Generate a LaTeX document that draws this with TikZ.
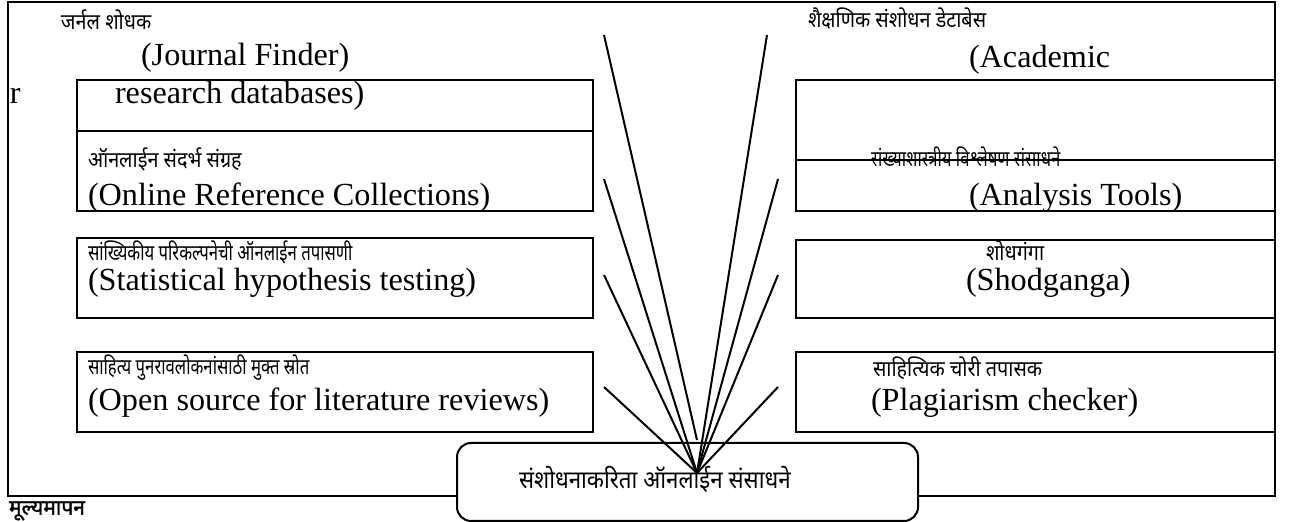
\documentclass[tikz,border=0pt]{standalone}
\usepackage{fontspec}
\setmainfont{Liberation Serif}
\newfontfamily\deva[Script=Devanagari, FakeStretch=0.9]{Noto Sans}
\newfontfamily\devanar[Script=Devanagari, FakeStretch=0.76]{Noto Sans}
\newfontfamily\devabf[Script=Devanagari, FakeBold=1.6]{Noto Sans}
\newcommand{\entxt}{\fontsize{16.1}{18}\selectfont}
\newcommand{\dvtxt}{\deva\fontsize{11}{13}\selectfont}
\newcommand{\dvnar}{\devanar\fontsize{11}{13}\selectfont}

\begin{document}
\begin{tikzpicture}[x=0.5pt, y=-0.5pt, line width=1pt,
	en/.style={inner sep=0pt, anchor=west, font=\entxt},
	dv/.style={inner sep=0pt, anchor=west, font=\dvtxt},
	dvn/.style={inner sep=0pt, anchor=west, font=\dvnar}]
		%%%%% START %%%%%
		\useasboundingbox (0,0) rectangle (1290,522);
		
		\draw (8,2) rectangle (1275,496);
		
		% left column
		\draw (77,80) rectangle (593,131);
		\draw (77,131) rectangle (593,211);
		\draw (77,238) rectangle (593,318);
		\draw (77,352) rectangle (593,432);
		
		% right column
		\draw (796,80) rectangle (1275,160);
		\draw (796,160) rectangle (1275,211);
		\draw (796,240) rectangle (1275,318);
		\draw (796,352) rectangle (1275,432);
		
		\node[draw, fill=white, rounded corners=7pt, inner sep=0pt, minimum width=230.5pt, minimum height=39pt] (resbox) at (687.5,482) {};
		
		\node[dv] (jfdv) at (60,20) {जर्नल शोधक};
		\node[en] (jfen) at (140,58) {(Journal Finder)};
		\node[en] (rr) at (9,96) {r};
		\node[en] (rden) at (114,96) {research databases)};
		\node[dv] (acdv) at (807,19) {शैक्षणिक संशोधन डेटाबेस};
		\node[en] (acen) at (968,60) {(Academic};
		\node[dvn] (stdv) at (870,157) {संख्याशास्त्रीय विश्लेषण संसाधने};
		\node[en] (sten) at (968,198) {(Analysis Tools)};
		\node[dv] (ordv) at (87,159) {ऑनलाईन संदर्भ संग्रह};
		\node[en] (oren) at (87,198) {(Online Reference Collections)};
		\node[dvn] (htdv) at (87,252) {सांख्यिकीय परिकल्पनेची ऑनलाईन तपासणी};
		\node[en] (hten) at (87,283) {(Statistical hypothesis testing)};
		\node[dv] (sgdv) at (985,251) {शोधगंगा};
		\node[en] (sgen) at (965,283) {(Shodganga)};
		\node[dvn] (osdv) at (87,368) {साहित्य पुनरावलोकनांसाठी मुक्त स्रोत};
		\node[en] (osen) at (87,403) {(Open source for literature reviews)};
		\node[dv] (pcdv) at (872,368) {साहित्यिक चोरी तपासक};
		\node[en] (pcen) at (870,403) {(Plagiarism checker)};
		\node[dv, font=\deva\fontsize{12.4}{14}\selectfont] (restxt) at (518,479) {संशोधनाकरिता ऑनलाईन संसाधने};
		\node[dv, font=\devabf\fontsize{10.5}{12}\selectfont] (eval) at (8,511) {मूल्यमापन};
		
		% fan of connectors
		\coordinate (hub) at (697,473);
		\coordinate (hubtop) at (697,440);
		\coordinate (l1) at (604,35);
		\coordinate (r1) at (767,35);
		\coordinate (l2) at (604,179);
		\coordinate (r2) at (778,179);
		\coordinate (l3) at (604,275);
		\coordinate (r3) at (778,275);
		\coordinate (l4) at (604,387);
		\coordinate (r4) at (778,387);
		
		\draw (l1) -- (hubtop);
		\draw (r1) -- (hub);
		\draw (l2) -- (hub);
		\draw (r2) -- (hub);
		\draw (l3) -- (hub);
		\draw (r3) -- (hub);
		\draw (l4) -- (hub);
		\draw (r4) -- (hub);
		
		%%%%% END %%%%%
\end{tikzpicture}
\end{document}
